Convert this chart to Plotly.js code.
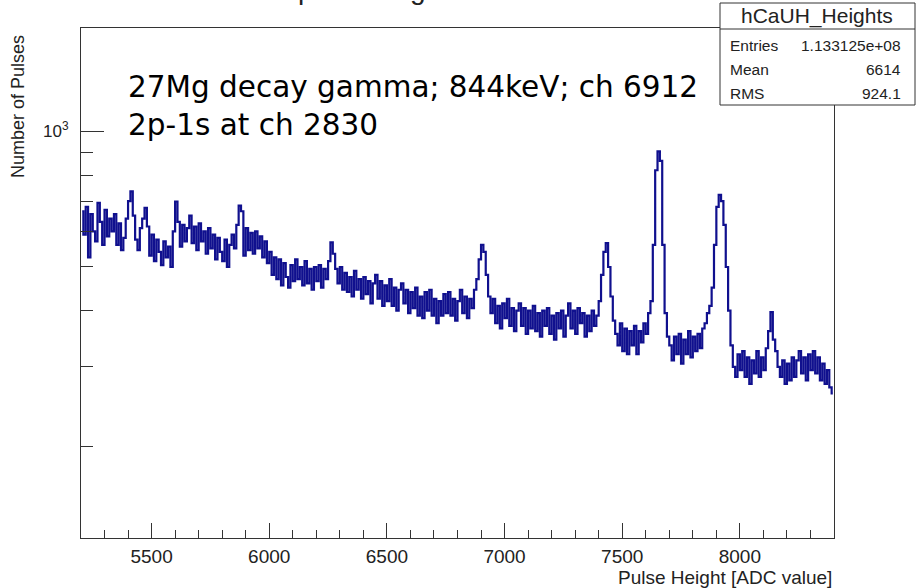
<!DOCTYPE html>
<html>
<head>
<meta charset="utf-8">
<script src="https://cdn.plot.ly/plotly-3.0.1.min.js"></script>
<style>html,body{margin:0;padding:0;background:#fff;}#chart{width:919px;height:588px;}</style>
</head>
<body>
<div id="chart"></div>
<script>
// Histogram binning (ADC channels)
const binStart = 5200;
const binWidth = 10;
// Counts per bin (noise band estimated by eye)
const counts = [
665,590,680,525,655,600,570,694,630,560,670,585,640,600,655,560,625,545,580,640,
700,736,650,575,545,610,640,677,615,530,590,515,575,540,505,570,525,555,500,600,
699,630,555,620,570,610,650,565,615,545,625,570,600,535,610,550,590,520,580,540,
515,575,500,560,590,550,620,684,665,530,610,545,595,535,600,550,585,525,570,510,
540,480,525,470,520,455,510,475,450,505,465,520,470,500,455,515,460,495,445,500,
465,505,450,495,470,515,567,535,495,460,500,445,485,440,475,430,490,445,470,425,
475,435,465,415,460,480,425,465,410,455,420,470,410,450,400,445,460,415,445,395,
440,405,450,390,430,385,440,400,445,390,425,375,420,390,435,395,440,390,425,380,
420,445,395,430,385,425,405,445,470,520,560,540,480,430,395,425,375,410,365,415,
385,425,370,405,360,400,415,370,405,355,400,365,410,360,395,350,400,370,405,355,
390,345,395,365,400,350,390,415,365,400,355,405,375,395,350,390,360,400,370,390,
420,480,540,565,500,430,380,355,335,375,325,365,320,360,335,370,320,360,340,375,
355,395,420,560,820,903,860,560,395,350,335,310,350,320,355,305,345,320,360,315,
350,325,355,330,365,375,395,410,450,560,680,723,700,620,500,400,335,300,285,320,
295,325,285,315,275,310,290,325,285,315,295,330,360,397,345,325,300,285,310,275,
305,280,315,285,310,325,290,315,280,320,295,325,290,315,280,305,275,295,270,262
];
// Axis ticks
const xMajorTicks = [5500, 6000, 6500, 7000, 7500, 8000];
const xMajorLabels = ['5500', '6000', '6500', '7000', '7500', '8000'];
const yMajorTicks = [1000];
const yMajorLabels = ['10<sup>3</sup>'];
const yMinorTicks = [200, 300, 400, 500, 600, 700, 800, 900];
// Texts
const histName = 'hCaUH_Heights';
const statLabels = ['Entries', 'Mean', 'RMS'];
const statValues = ['1.133125e+08', '6614', '924.1'];
const noteLines = ['27Mg decay gamma; 844keV; ch 6912', '2p-1s at ch 2830'];
const xTitle = 'Pulse Height [ADC value]';
const yTitle = 'Number of Pulses';
const topTitle = 'pulse heights';

const xs = counts.map((_, i) => binStart + binWidth * (i + 0.5));

const W = 919, H = 588;
const L = 81, R = 85, T = 28, B = 50;
const pw = W - L - R, ph = H - T - B;
const px2x = p => (p - L) / pw;
const py2y = p => (H - B - p) / ph;

const axisColor = '#333';
const textFont = 'Liberation Sans, Arial, Helvetica, sans-serif';

const trace = {
  x: xs, y: counts, type: 'scatter', mode: 'lines',
  line: {shape: 'hvh', color: '#10108e', width: 2.2},
  hoverinfo: 'skip'
};

const annotations = [
  {text: noteLines.join('<br>'), x: px2x(126), y: py2y(68), xanchor: 'left', yanchor: 'top', align: 'left',
   font: {family: 'DejaVu Sans', size: 29.5, color: '#000'}},
  {text: yTitle, x: px2x(18), y: py2y(107), textangle: -90, xanchor: 'center', yanchor: 'middle',
   font: {family: textFont, size: 18, color: '#222'}},
  {text: xTitle, x: px2x(834), y: py2y(577), xanchor: 'right', yanchor: 'middle',
   font: {family: textFont, size: 19, color: '#222'}},
  {text: histName, x: px2x(817), y: py2y(16), xanchor: 'center', yanchor: 'middle',
   font: {family: textFont, size: 21, color: '#222'}},
  {text: topTitle, x: px2x(380), y: py2y(7), xanchor: 'center', yanchor: 'bottom',
   font: {family: textFont, size: 28, color: '#222'}}
];
statLabels.forEach((s, i) => {
  const py = [45, 69, 93][i];
  annotations.push({text: s, x: px2x(728), y: py2y(py), xanchor: 'left', yanchor: 'middle',
    font: {family: textFont, size: 15.5, color: '#222'}});
  annotations.push({text: statValues[i], x: px2x(903), y: py2y(py), xanchor: 'right', yanchor: 'middle',
    font: {family: textFont, size: 15.5, color: '#222'}});
});
annotations.forEach(a => { a.xref = 'paper'; a.yref = 'paper'; a.showarrow = false; });

const shapes = [
  {type: 'rect', xref: 'paper', yref: 'paper', x0: px2x(720), x1: px2x(915), y0: py2y(105), y1: py2y(3),
   line: {color: axisColor, width: 1}, fillcolor: '#fff', layer: 'above'},
  {type: 'line', xref: 'paper', yref: 'paper', x0: px2x(720), x1: px2x(915), y0: py2y(29), y1: py2y(29),
   line: {color: axisColor, width: 1}, layer: 'above'}
];

const layout = {
  width: W, height: H,
  margin: {l: L, r: R, t: T, b: B, pad: 0},
  paper_bgcolor: '#fff', plot_bgcolor: '#fff',
  showlegend: false,
  xaxis: {
    range: [5200, 8400], tickmode: 'array', tickvals: xMajorTicks, ticktext: xMajorLabels,
    ticks: 'inside', ticklen: 15, tickcolor: axisColor, tickwidth: 1,
    minor: {tick0: 5200, dtick: 100, ticks: 'inside', ticklen: 8, tickcolor: axisColor, tickwidth: 1},
    showline: true, linecolor: axisColor, linewidth: 1, mirror: true,
    showgrid: false, zeroline: false, ticklabelstandoff: 1,
    tickfont: {family: textFont, size: 19, color: '#222'}
  },
  yaxis: {
    type: 'log', range: [2.097, 3.2298], tickmode: 'array', tickvals: yMajorTicks, ticktext: yMajorLabels,
    ticks: 'inside', ticklen: 23, tickcolor: axisColor, tickwidth: 1,
    minor: {tickmode: 'array', tickvals: yMinorTicks, ticks: 'inside', ticklen: 12, tickcolor: axisColor, tickwidth: 1},
    showline: true, linecolor: axisColor, linewidth: 1, mirror: true,
    showgrid: false, zeroline: false, ticklabelstandoff: 8,
    tickfont: {family: textFont, size: 17, color: '#222'}
  },
  annotations: annotations,
  shapes: shapes
};

Plotly.newPlot('chart', [trace], layout, {staticPlot: true, displayModeBar: false});
</script>
</body>
</html>
